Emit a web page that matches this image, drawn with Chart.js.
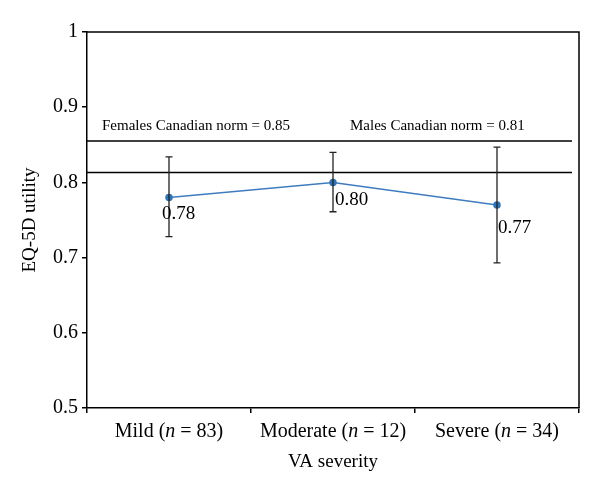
<!DOCTYPE html>
<html>
<head>
<meta charset="utf-8">
<script src="https://cdn.jsdelivr.net/npm/chart.js@4"></script>
<style>
    html, body { margin: 0; padding: 0; background: #fff; }
    #wrap { width: 600px; height: 494px; }
</style>
</head>
<body>
<div id="wrap"><canvas id="chart" width="600" height="494"></canvas></div>
<script>
/* Dados */
const categorias   = ['Mild (n = 83)', 'Moderate (n = 12)', 'Severe (n = 34)'];
const utilidade    = [0.78, 0.80, 0.77];
const erroInferior = [0.728, 0.761, 0.693];
const erroSuperior = [0.834, 0.840, 0.847];
const rotulos      = ['0.78', '0.80', '0.77'];
const yTicks       = [0.5, 0.6, 0.7, 0.8, 0.9, 1];

/* Normas canadenses (linhas horizontais) */
const normaFeminina = 0.855;
const normaMasculina = 0.813;
const normaTextos = ['Females Canadian norm = 0.85', 'Males Canadian norm = 0.81'];

const serif = '"Liberation Serif", "Times New Roman", serif';

/* Plugin: caixa, linhas de norma, barras de erro e rótulos */
const extrasPlugin = {
    id: 'extras',
    afterDatasetsDraw(chart) {
        const { ctx, chartArea: a, scales: { x, y } } = chart;
        ctx.save();

        // borda superior e direita
        ctx.strokeStyle = '#000';
        ctx.lineWidth = 1.5;
        ctx.beginPath();
        ctx.moveTo(a.left, a.top);
        ctx.lineTo(a.right, a.top);
        ctx.lineTo(a.right, a.bottom);
        ctx.stroke();

        // linhas de norma
        [normaFeminina, normaMasculina].forEach(v => {
            const py = y.getPixelForValue(v);
            ctx.beginPath();
            ctx.moveTo(a.left, py);
            ctx.lineTo(a.right - 7, py);
            ctx.stroke();
        });

        ctx.fillStyle = '#000';
        ctx.font = '15px ' + serif;
        ctx.textBaseline = 'alphabetic';
        ctx.textAlign = 'left';
        const ty = y.getPixelForValue(normaFeminina) - 11;
        ctx.fillText(normaTextos[0], a.left + 15, ty);
        ctx.fillText(normaTextos[1], a.left + 263, ty);

        // barras de erro
        ctx.strokeStyle = '#222';
        ctx.lineWidth = 1.3;
        categorias.forEach((c, i) => {
            const px = x.getPixelForValue(i);
            const top = y.getPixelForValue(erroSuperior[i]);
            const bot = y.getPixelForValue(erroInferior[i]);
            ctx.beginPath();
            ctx.moveTo(px, top); ctx.lineTo(px, bot);
            ctx.moveTo(px - 3.5, top); ctx.lineTo(px + 3.5, top);
            ctx.moveTo(px - 3.5, bot); ctx.lineTo(px + 3.5, bot);
            ctx.stroke();
        });

        // rótulos dos valores
        ctx.font = '19px ' + serif;
        ctx.textBaseline = 'middle';
        const desloc = [[-7, 17], [2, 18], [1, 23]];
        utilidade.forEach((v, i) => {
            const px = x.getPixelForValue(i);
            const py = y.getPixelForValue(v);
            ctx.fillText(rotulos[i], px + desloc[i][0], py + desloc[i][1]);
        });

        // rótulos das categorias com "n" em itálico
        const normal = '20px ' + serif;
        const italico = 'italic 20px ' + serif;
        ctx.textBaseline = 'middle';
        categorias.forEach((c, i) => {
            const k = c.indexOf('n =');
            const partes = [[c.slice(0, k), normal], ['n', italico], [c.slice(k + 1), normal]];
            let total = 0;
            partes.forEach(p => { ctx.font = p[1]; total += ctx.measureText(p[0]).width; });
            let px = x.getPixelForValue(i) - total / 2;
            const py = a.bottom + 24;
            partes.forEach(p => {
                ctx.font = p[1];
                ctx.fillText(p[0], px, py);
                px += ctx.measureText(p[0]).width;
            });
        });

        ctx.restore();
    }
};

new Chart(document.getElementById('chart'), {
    type: 'line',
    data: {
        labels: categorias,
        datasets: [{
            data: utilidade,
            borderColor: '#3f7cbf',
            borderWidth: 1.5,
            pointStyle: 'circle',
            pointRadius: 3,
            pointBackgroundColor: '#2e75b6',
            pointBorderColor: '#2e75b6',
            tension: 0
        }]
    },
    options: {
        responsive: false,
        animation: false,
        events: [],
        layout: { padding: { top: 32, right: 21, left: 0, bottom: 0 } },
        plugins: {
            legend: { display: false },
            tooltip: { enabled: false }
        },
        scales: {
            x: {
                type: 'category',
                offset: true,
                grid: { offset: true, drawOnChartArea: false, drawTicks: true, tickLength: 5, color: '#000', lineWidth: 1.5 },
                border: { color: '#000', width: 1.5 },
                // texto desenhado pelo plugin (n em itálico)
                ticks: { color: 'rgba(0,0,0,0)', font: { family: serif, size: 20 }, padding: 8, maxRotation: 0, autoSkip: false },
                title: { display: true, text: 'VA severity', color: '#000', font: { family: serif, size: 19 }, padding: { top: 0, bottom: 21 } },
                afterFit(scale) { scale.height = 86; }
            },
            y: {
                min: 0.5,
                max: 1,
                afterBuildTicks(scale) { scale.ticks = yTicks.map(v => ({ value: v })); },
                grid: { drawOnChartArea: false, drawTicks: true, tickLength: 5, color: '#000', lineWidth: 1.5 },
                border: { color: '#000', width: 1.5 },
                ticks: {
                    color: '#000',
                    font: { family: serif, size: 20 },
                    padding: 4,
                    callback: v => v === 1 ? '1' : v.toFixed(1)
                },
                title: { display: true, text: 'EQ-5D utility', color: '#000', font: { family: serif, size: 19 }, padding: { top: 19, bottom: 0 } },
                afterFit(scale) { scale.width = 87; }
            }
        }
    },
    plugins: [extrasPlugin]
});
</script>
</body>
</html>
